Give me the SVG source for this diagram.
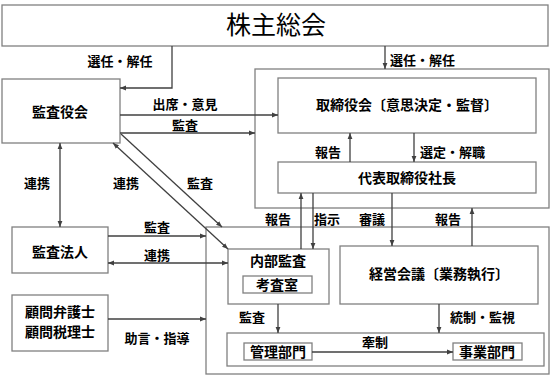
<svg xmlns="http://www.w3.org/2000/svg" width="555" height="383" viewBox="0 0 555 383">
<style>
.box{fill:#fff;stroke:#808080;stroke-width:1.3}
.ln{fill:none;stroke:#404040;stroke-width:1.3}
text{font-family:"Noto Sans CJK JP","Noto Sans CJK SC",sans-serif;fill:#000}
.t{font-size:14px;font-weight:bold;text-anchor:middle}
.l{font-size:13px;font-weight:bold;text-anchor:middle}
.ls{font-size:13px;font-weight:bold;text-anchor:start}
.big{font-size:25px;text-anchor:middle}
</style>
<defs>
<marker id="ah" viewBox="0 0 10 10" refX="10" refY="5" markerWidth="6" markerHeight="6" orient="auto-start-reverse" markerUnits="userSpaceOnUse">
<path d="M0,1 L10,5 L0,9 z" fill="#404040"/>
</marker>
</defs>
<rect width="555" height="383" fill="#fff"/>
<g id="frames">
<rect class="box" x="255" y="69" width="294" height="139"/>
<rect class="box" x="206" y="227" width="343" height="147"/>
</g>
<g id="kabunushi"><rect class="box" x="2" y="5" width="546" height="41"/><text class="big" x="276" y="34">株主総会</text></g>
<g id="kansayakukai"><rect class="box" x="2" y="79" width="118" height="64"/><text class="t" x="60" y="117">監査役会</text></g>
<g id="kansahojin"><rect class="box" x="12" y="227" width="96" height="46"/><text class="t" x="60" y="257">監査法人</text></g>
<g id="komon"><rect class="box" x="12" y="295" width="96" height="56"/><text class="t" x="60" y="317">顧問弁護士</text><text class="t" x="60" y="337">顧問税理士</text></g>
<g id="torishimariyakukai"><rect class="box" x="278" y="78" width="258" height="55"/><text class="t" x="407" y="110">取締役会〔意思決定・監督〕</text></g>
<g id="daihyo"><rect class="box" x="278" y="162" width="258" height="31"/><text class="t" x="407" y="183">代表取締役社長</text></g>
<g id="naibukansa"><rect class="box" x="228" y="249" width="101" height="55"/><text class="t" x="278" y="266">内部監査</text></g>
<g id="kosashitsu"><rect class="box" x="243" y="276" width="69" height="17"/><text class="t" x="277" y="290">考査室</text></g>
<g id="keieikaigi"><rect class="box" x="340" y="246" width="198" height="58"/><text class="t" x="439" y="279">経営会議〔業務執行〕</text></g>
<g id="bumon"><rect class="box" x="227" y="333" width="317" height="33"/></g>
<g id="kanri"><rect class="box" x="244" y="343" width="68" height="17"/><text class="t" x="278" y="357">管理部門</text></g>
<g id="jigyo"><rect class="box" x="453" y="343" width="69" height="17"/><text class="t" x="487" y="357">事業部門</text></g>
<g id="connectors">
<path class="ln" d="M172,46 V88 H120" marker-end="url(#ah)"/>
<path class="ln" d="M385,46 V69" marker-end="url(#ah)"/>
<path class="ln" d="M120,115 H278" marker-end="url(#ah)"/>
<path class="ln" d="M120,133 H255" marker-end="url(#ah)"/>
<path class="ln" d="M121,134 L222,227" marker-end="url(#ah)"/>
<path class="ln" d="M113,143 L228,249" marker-start="url(#ah)" marker-end="url(#ah)"/>
<path class="ln" d="M60,143 V227" marker-start="url(#ah)" marker-end="url(#ah)"/>
<path class="ln" d="M108,236 H206" marker-end="url(#ah)"/>
<path class="ln" d="M108,263 H228" marker-start="url(#ah)" marker-end="url(#ah)"/>
<path class="ln" d="M108,319 H206" marker-end="url(#ah)"/>
<path class="ln" d="M350,162 V133" marker-end="url(#ah)"/>
<path class="ln" d="M414,133 V162" marker-end="url(#ah)"/>
<path class="ln" d="M301,249 V193" marker-end="url(#ah)"/>
<path class="ln" d="M313,193 V249" marker-end="url(#ah)"/>
<path class="ln" d="M392,193 V246" marker-end="url(#ah)"/>
<path class="ln" d="M472,246 V208" marker-end="url(#ah)"/>
<path class="ln" d="M278,304 V333" marker-end="url(#ah)"/>
<path class="ln" d="M439,304 V333" marker-end="url(#ah)"/>
<path class="ln" d="M312,352 H453" marker-end="url(#ah)"/>
</g>
<g id="labels">
<text class="l" x="120" y="66">選任・解任</text>
<text class="ls" x="390" y="65">選任・解任</text>
<text class="l" x="185" y="109">出席・意見</text>
<text class="l" x="185" y="130">監査</text>
<text class="l" x="37" y="188">連携</text>
<text class="l" x="126" y="188">連携</text>
<text class="l" x="200" y="188">監査</text>
<text class="l" x="157" y="232">監査</text>
<text class="l" x="157" y="260">連携</text>
<text class="l" x="157" y="343">助言・指導</text>
<text class="l" x="328" y="157">報告</text>
<text class="ls" x="420" y="157">選定・解職</text>
<text class="l" x="278" y="224">報告</text>
<text class="l" x="327" y="224">指示</text>
<text class="l" x="372" y="224">審議</text>
<text class="l" x="448" y="224">報告</text>
<text class="l" x="252" y="322">監査</text>
<text class="ls" x="450" y="322">統制・監視</text>
<text class="l" x="375" y="347">牽制</text>
</g>
</svg>
